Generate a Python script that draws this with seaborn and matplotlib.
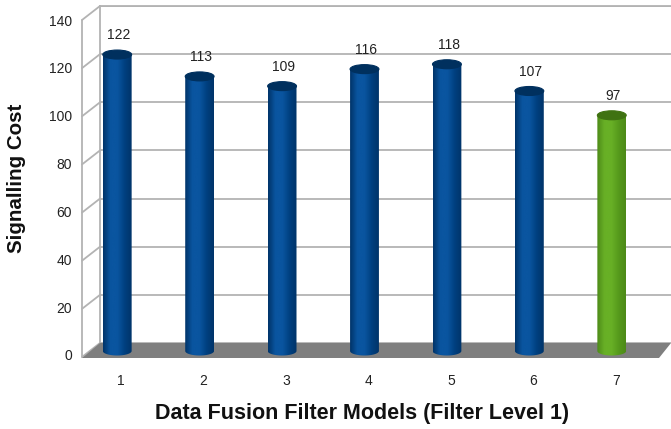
import numpy as np
import matplotlib
matplotlib.use("Agg")
import matplotlib.pyplot as plt
import seaborn as sns
import pandas as pd
from matplotlib.patches import Polygon, Ellipse
from matplotlib.colors import LinearSegmentedColormap
import matplotlib.transforms as mtrans

# ---------------- data ----------------
models = ["1", "2", "3", "4", "5", "6", "7"]
cost = [122, 113, 109, 116, 118, 107, 97]
bar_colors = ["#004586", "#004586", "#004586", "#004586", "#004586", "#004586", "#5ea31f"]
y_ticks = [0, 20, 40, 60, 80, 100, 120, 140]
x_title = "Data Fusion Filter Models (Filter Level 1)"
y_title = "Signalling Cost"

df = pd.DataFrame({"model": models, "cost": cost})

sns.set_theme(style="white")
plt.rcParams['font.family'] = ['Liberation Sans', 'DejaVu Sans']

W, H = 671, 429
fig = plt.figure(figsize=(W / 100, H / 100), dpi=100)

def fx(px):
    return px / W

def fy(py):
    return 1 - py / H

YMAX = 140
# ---------------- back wall ----------------
bk_top, bk_bot, bk_left = 6, 343, 100
back = fig.add_axes([fx(bk_left), fy(bk_bot), fx(W - bk_left + 5), (bk_bot - bk_top) / H], zorder=-1)
back.set_ylim(0, YMAX)
back.set_xlim(0, 1)
back.set_yticks(y_ticks)
back.set_xticks([])
back.tick_params(left=False, labelleft=False)
back.grid(axis="y", color="#b3b3b3", lw=1.3)
for s in ["right", "bottom"]:
    back.spines[s].set_visible(False)
for s in ["left", "top"]:
    back.spines[s].set_color("#b3b3b3")
    back.spines[s].set_linewidth(1.3)
back.set_facecolor("white")

# ---------------- left wall ----------------
fr_left, fr_top, fr_bot = 82, 20, 357
gray = "#b3b3b3"
for v in y_ticks:
    yf = fr_bot - v * (fr_bot - fr_top) / YMAX
    yb = bk_bot - v * (bk_bot - bk_top) / YMAX
    fig.add_artist(plt.Line2D([fx(fr_left), fx(bk_left)], [fy(yf), fy(yb)],
                              color=gray, lw=1.3, transform=fig.transFigure, zorder=0.3))
fig.add_artist(plt.Line2D([fx(fr_left), fx(fr_left)], [fy(fr_bot), fy(fr_top)],
                          color=gray, lw=1.3, transform=fig.transFigure, zorder=0.3))

# ---------------- floor ----------------
floor = Polygon([(fx(bk_left), fy(bk_bot)), (fx(671), fy(bk_bot)), (fx(659), fy(358)),
                 (fx(fr_left), fy(358))], closed=True, transform=fig.transFigure,
                facecolor="#7f7f7f", edgecolor="none", zorder=0.5)
fig.add_artist(floor)

ax_left, ax_right = 76, 653
ax_w = (ax_right - ax_left) / W

# ---------------- label axes (front plane ticks and titles) ----------------
lb_bot, lb_top = 355, 20
lab = fig.add_axes([fx(ax_left), fy(lb_bot), ax_w, (lb_bot - lb_top) / H], zorder=1)
lab.patch.set_alpha(0)
lab.set_xlim(-0.5, len(models) - 0.5)
lab.set_ylim(0, YMAX)
lab.set_yticks(y_ticks)
lab.set_xticks(range(len(models)))
lab.set_xticklabels(models)
for s in lab.spines.values():
    s.set_visible(False)
lab.tick_params(axis="y", length=0, pad=3, labelsize=10, labelcolor="#222222")
lab.tick_params(axis="x", length=0, pad=13.5, labelsize=10, labelcolor="#222222")
off = mtrans.ScaledTranslation(4 / 100, 0, fig.dpi_scale_trans)
for t in lab.get_xticklabels():
    t.set_transform(t.get_transform() + off)
lab.set_xlabel(x_title, fontsize=15.5, fontweight="bold", color="#111111")
lab.set_ylabel(y_title, fontsize=14.8, fontweight="bold", color="#111111")
lab.xaxis.label.set_va("center")
lab.yaxis.label.set_va("center")
lab.xaxis.set_label_coords((362 - ax_left) / (ax_right - ax_left), (lb_bot - 413) / (lb_bot - lb_top))
lab.yaxis.set_label_coords((17 - ax_left) / (ax_right - ax_left), (lb_bot - 178) / (lb_bot - lb_top))

# ---------------- bars (front axes) ----------------
ppu = 2.43
y0px = 351
ylow = -4
ax = fig.add_axes([fx(ax_left), fy(y0px - ylow * ppu), ax_w,
                   (YMAX - ylow) * ppu / H], zorder=2)
ax.patch.set_alpha(0)
sns.barplot(data=df, x="model", y="cost", hue="model", palette=bar_colors,
            width=0.35, legend=False, ax=ax, saturation=1)
ax.set_ylim(ylow, YMAX)
ax.set_xlim(-0.5, len(models) - 0.5)
for s in ax.spines.values():
    s.set_visible(False)
ax.set_xticks([])
ax.set_yticks([])
ax.set_xlabel("")
ax.set_ylabel("")

shades = {
    "#004586": ("#003469", "#0a55a0", "#004080", "#00305e"),
    "#5ea31f": ("#4d8a18", "#68b026", "#569a1c", "#3f7212"),
}

ell_h = 9 / ppu
bars = list(ax.containers[0]) if len(ax.containers) == 1 else [c[0] for c in ax.containers]
for i, p in enumerate(bars):
    x0 = p.get_x()
    w = p.get_width()
    h = p.get_height()
    cx = x0 + w / 2
    col = bar_colors[i]
    dark, light, mid, top = shades[col]
    cmap = LinearSegmentedColormap.from_list("c", [dark, light, light, mid, dark])
    p.set_facecolor("none")
    p.set_edgecolor("none")
    t = np.linspace(np.pi, 2 * np.pi, 40)
    bottom = [(cx + w / 2 * np.cos(a), 0 + ell_h / 2 * np.sin(a)) for a in t]
    verts = [(x0, h)] + bottom + [(x0 + w, h)]
    clip = Polygon(verts, closed=True, transform=ax.transData, facecolor="none", edgecolor="none")
    ax.add_patch(clip)
    grad = np.linspace(0, 1, 64).reshape(1, -1)
    im = ax.imshow(grad, extent=[x0, x0 + w, -ell_h, h], aspect="auto", cmap=cmap,
                   zorder=3, interpolation="bicubic")
    im.set_clip_path(clip)
    ax.add_patch(Ellipse((cx, h), w, ell_h, facecolor=top, edgecolor=top, lw=0.8, zorder=4))
    ax.text(cx + 0.02, h + 5, f"{cost[i]}", ha="center", va="bottom", fontsize=10,
            color="#222222", zorder=5)

ax.set_xlim(-0.5, len(models) - 0.5)
ax.set_ylim(ylow, YMAX)

fig.savefig("out.png", dpi=100)
